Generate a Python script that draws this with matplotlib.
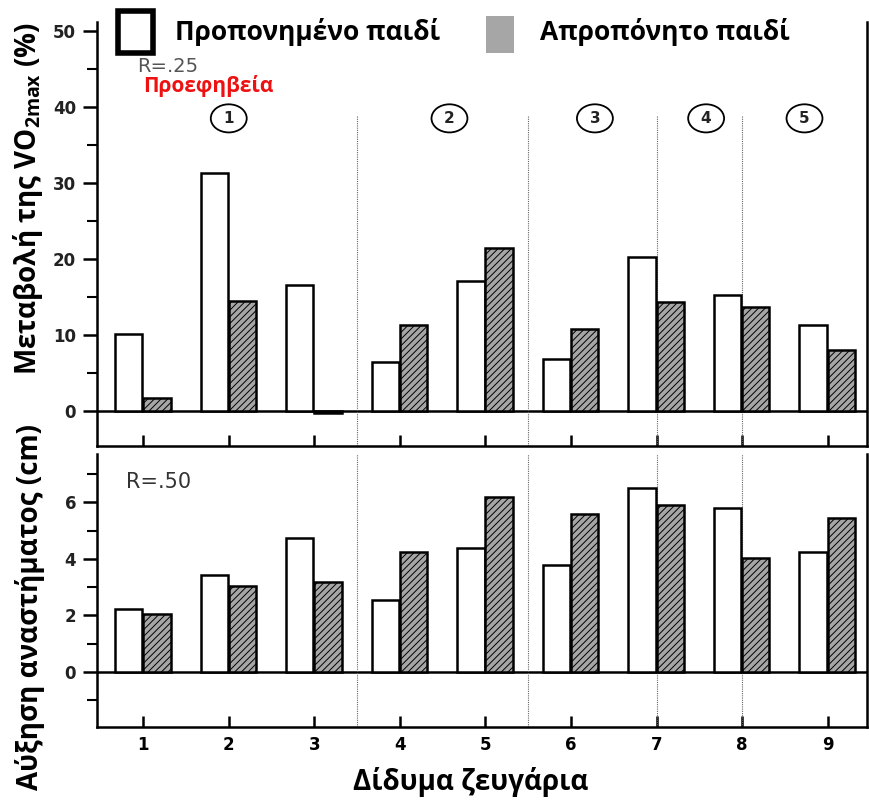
import numpy as np
import matplotlib.pyplot as plt
from matplotlib.patches import Ellipse, Rectangle

plt.rcParams['font.family'] = ['Open Sans', 'DejaVu Sans']
plt.rcParams['hatch.color'] = '#8c8c8c'
plt.rcParams['hatch.linewidth'] = 0.7

# δεδομένα
pairs = [1, 2, 3, 4, 5, 6, 7, 8, 9]
vo2_trained = [10.1, 31.3, 16.6, 6.4, 17.1, 6.8, 20.3, 15.3, 11.3]
vo2_untrained = [1.7, 14.5, -0.2, 11.3, 21.4, 10.8, 14.3, 13.7, 8.0]
height_trained = [2.22, 3.43, 4.73, 2.54, 4.38, 3.78, 6.5, 5.8, 4.24]
height_untrained = [2.05, 3.04, 3.18, 4.24, 6.18, 5.58, 5.9, 4.03, 5.44]
separators = [3.5, 5.5, 7.0, 8.0]
groups = ['1', '2', '3', '4', '5']
group_pos = [2.0, 4.58, 6.28, 7.58, 8.73]

x = np.array(pairs)
w = 0.32
gray = '#a6a6a6'

fig = plt.figure(figsize=(8.7, 8.08), dpi=100)
ax1 = fig.add_axes([0.1115, 0.448, 0.885, 0.525])
ax2 = fig.add_axes([0.1115, 0.100, 0.885, 0.338])

def style(ax, ylim, major, minor):
    ax.set_xlim(0.46, 9.46)
    ax.set_ylim(*ylim)
    ax.spines['top'].set_visible(False)
    for s in ['left', 'bottom', 'right']:
        ax.spines[s].set_linewidth(1.8)
    ax.set_yticks(major)
    ax.set_yticks(minor, minor=True)
    ax.tick_params(axis='y', which='major', direction='out', length=10, width=1.8, labelsize=12, pad=5)
    ax.tick_params(axis='y', which='minor', direction='out', length=7, width=1.5)
    ax.tick_params(axis='x', direction='in', length=8, width=1.8, labelsize=12, pad=6)
    ax.set_xticks(pairs)
    for lab in ax.get_yticklabels():
        lab.set_fontweight('bold')
        lab.set_family('DejaVu Sans')
        lab.set_color('#222222')
    ax.axhline(0, color='black', lw=1.8, zorder=1)

# πάνω διάγραμμα
style(ax1, (-4.6, 51.2), [0, 10, 20, 30, 40, 50], [5, 15, 25, 35, 45])
ax1.set_xticklabels([])
ax1.bar(x - 0.17, vo2_trained, w, color='white', edgecolor='black', lw=1.8, zorder=3)
ax1.bar(x + 0.16, vo2_untrained, w, color=gray, edgecolor='black', lw=1.8, hatch='/////', zorder=3)
for s in separators:
    ax1.plot([s, s], [-4.6, 38.8], color='#666666', lw=0.8, ls=(0, (1, 1)), zorder=2)
for g, gp in zip(groups, group_pos):
    ax1.add_patch(Ellipse((gp, 38.5), 0.42, 3.7, fill=False, edgecolor='black', lw=1.3))
    ax1.text(gp, 38.5, g, ha='center', va='center', fontsize=11, family='DejaVu Sans',
             fontweight='bold', color='#222222')
ax1.text(0.93, 45.3, 'R=.25', fontsize=14, color='#555555', family='DejaVu Sans', va='center')
ax1.text(1.0, 42.7, 'Προεφηβεία', fontsize=15, color='#ee1111', fontweight='bold', va='center')
ax1.set_ylabel('Μεταβολή της VO$_{\\mathregular{2max}}$ (%)', fontsize=20, fontweight='bold')

# κάτω διάγραμμα
style(ax2, (-1.95, 7.7), [0, 2, 4, 6], [-1, 1, 3, 5, 7])
ax2.bar(x - 0.17, height_trained, w, color='white', edgecolor='black', lw=1.8, zorder=3)
ax2.bar(x + 0.16, height_untrained, w, color=gray, edgecolor='black', lw=1.8, hatch='/////', zorder=3)
for s in separators:
    ax2.axvline(s, color='#666666', lw=0.8, ls=(0, (1, 1)), zorder=2)
ax2.set_xticklabels([str(p) for p in pairs], fontweight='bold', family='DejaVu Sans')
ax2.text(0.8, 6.7, 'R=.50', fontsize=15, color='#333333', family='DejaVu Sans', va='center')
ax2.set_ylabel('Αύξηση αναστήματος (cm)', fontsize=20, fontweight='bold')
ax2.set_xlabel('Δίδυμα ζευγάρια', fontsize=20, fontweight='bold')
ax2.xaxis.set_label_coords(0.485, -0.145)

ax1.yaxis.set_label_coords(-0.068, 0.583)
ax2.yaxis.set_label_coords(-0.068, 0.44)

# υπόμνημα
fig.patches.append(Rectangle((118 / 870, 1 - 53 / 808), 35 / 870, 42 / 808, transform=fig.transFigure,
                             facecolor='white', edgecolor='black', lw=4, zorder=5))
fig.text(175 / 870, 1 - 32 / 808, 'Προπονημένο παιδί', fontsize=19, fontweight='bold', va='center', zorder=6)
fig.patches.append(Rectangle((486 / 870, 1 - 53 / 808), 28 / 870, 37 / 808, transform=fig.transFigure,
                             facecolor='#a6a6a6', edgecolor='none', zorder=5))
fig.text(540 / 870, 1 - 32 / 808, 'Απροπόνητο παιδί', fontsize=19, fontweight='bold', va='center', zorder=6)

fig.savefig('out.png', dpi=100)
